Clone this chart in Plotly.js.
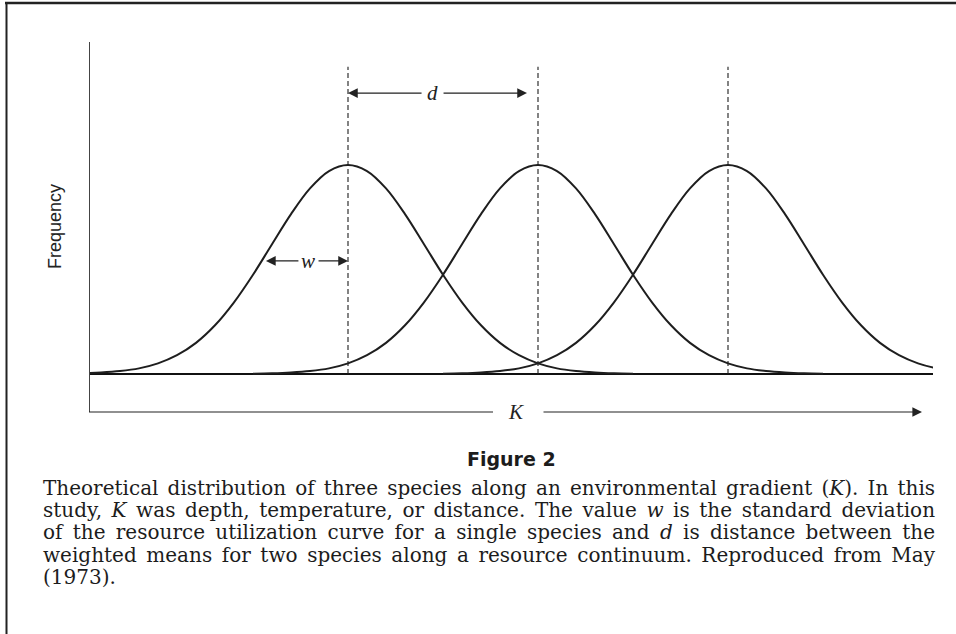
<!DOCTYPE html>
<html>
<head>
<meta charset="utf-8">
<script src="https://cdn.plot.ly/plotly-3.0.1.min.js"></script>
<style>
html,body{margin:0;padding:0;background:#ffffff;}
#chart{width:956px;height:634px;}
</style>
</head>
<body>
<div id="chart"></div>
<script>
// ---------------- data ----------------
// weighted means of the three species along K (in units of d)
const speciesMeans = [0, 1, 2];
// resource utilisation curve: offsets from the mean (units of d) and relative frequency
const curveOffsets = [-1.5,-1.4,-1.3,-1.2,-1.1,-1.0,-0.9,-0.8,-0.7,-0.6,-0.5,-0.4,-0.3,-0.2,-0.1,0,
                       0.1,0.2,0.3,0.4,0.5,0.6,0.7,0.8,0.9,1.0,1.1,1.2,1.3,1.4,1.5];
const curveFrequency = [0.001,0.003,0.007,0.014,0.027,0.051,0.090,0.149,0.233,0.343,0.475,0.621,0.765,0.888,0.971,1.000,
                        0.971,0.888,0.765,0.621,0.475,0.343,0.233,0.149,0.090,0.051,0.027,0.014,0.007,0.003,0.001];
const meanLineHeight = [0, 1.47];     // dashed mean lines run from baseline to here
const dArrowY = 1.344, dArrowRight = 0.942;   // d marker (from mean 1 toward mean 2)
const wArrowY = 0.541, wArrowLeft = -0.432;   // w marker (one s.d. left of mean 1)

const yAxisTitle = 'Frequency';
const gradientLabel = 'K';
const widthLabel = 'w';
const distLabel = 'd';
const figureTitle = 'Figure 2';
const captionLines = [
  'Theoretical distribution of three species along an environmental gradient (<i>K</i>). In this',
  'study, <i>K</i> was depth, temperature, or distance. The value <i>w</i> is the standard deviation',
  'of the resource utilization curve for a single species and <i>d</i> is distance between the',
  'weighted means for two species along a resource continuum. Reproduced from May',
  '(1973).'
];

// ---------------- layout geometry ----------------
const W = 956, H = 634;
const M = {l: 90, r: 23, t: 42, b: 222};
const PW = W - M.l - M.r, PH = H - M.t - M.b;
const px2x = px => (px - M.l) / PW;
const px2y = py => (H - M.b - py) / PH;

const INK = '#1e1e1e';
const CAPFONT = 'DejaVu Serif';
const SERIF = 'DejaVu Serif, serif';
const ITAL = 'Liberation Serif, DejaVu Serif, serif';

// ---------------- traces ----------------
const traces = [];
speciesMeans.forEach(m => {
  traces.push({
    x: [m, m], y: meanLineHeight, mode: 'lines', hoverinfo: 'skip', showlegend: false,
    line: {color: INK, width: 1.1, dash: '5px,3px'}
  });
});
speciesMeans.forEach(m => {
  traces.push({
    x: curveOffsets.map(o => m + o), y: curveFrequency, mode: 'lines', hoverinfo: 'skip', showlegend: false,
    line: {color: INK, width: 2, shape: 'spline', smoothing: 1}
  });
});

// ---------------- caption justification ----------------
const ctx = document.createElement('canvas').getContext('2d');
function measure(html, size) {
  let w = 0;
  html.split(/(<i>.*?<\/i>)/).forEach(p => {
    if (!p) return;
    const it = p.startsWith('<i>');
    ctx.font = (it ? 'italic ' : '') + size + 'px "' + CAPFONT + '", serif';
    w += ctx.measureText(p.replace(/<\/?i>/g, '')).width;
  });
  return w;
}
const capLeft = 43, capRight = 935, capW = capRight - capLeft;
const ratios = captionLines.slice(0, 4).map(l => capW / measure(l, 18));
const ratioAvg = ratios.reduce((a, b) => a + b, 0) / ratios.length;
const capSize = Math.max(14, Math.min(20, 18 * ratioAvg));
const capY = [488, 510, 532, 555, 577];

const annotations = [];
captionLines.forEach((line, i) => {
  let txt = line;
  if (i < captionLines.length - 1) {
    const nat = measure(line, capSize);
    const spaces = (line.replace(/<\/?i>/g, '').match(/ /g) || []).length;
    const ws = (capW - nat) / spaces;
    txt = '<span style="word-spacing:' + ws.toFixed(2) + 'px">' + line + '</span>';
  }
  annotations.push({
    xref: 'paper', yref: 'paper', x: px2x(capLeft - 2), y: px2y(capY[i]),
    xanchor: 'left', yanchor: 'middle', align: 'left', showarrow: false,
    text: txt, font: {family: SERIF, size: capSize, color: '#1c1c1c'}
  });
});

annotations.push({
  xref: 'paper', yref: 'paper', x: px2x(511), y: px2y(459), xanchor: 'center', yanchor: 'middle',
  showarrow: false, text: '<b>' + figureTitle + '</b>',
  font: {family: '"Liberation Sans Narrow", "DejaVu Sans", sans-serif', size: 19, color: '#1c1c1c'}
});
annotations.push({
  xref: 'paper', yref: 'paper', x: px2x(55), y: 0.5, xanchor: 'center', yanchor: 'middle',
  showarrow: false, textangle: -90, text: yAxisTitle,
  font: {family: 'Liberation Sans, Arial, sans-serif', size: 18, color: '#222'}
});
// K gradient label and arrow
annotations.push({
  xref: 'paper', yref: 'paper', x: px2x(516), y: 0, xanchor: 'center', yanchor: 'middle',
  showarrow: false, text: '<i>' + gradientLabel + '</i>', font: {family: ITAL, size: 21, color: '#222'}
});
annotations.push({
  xref: 'paper', yref: 'paper', x: px2x(922), y: 0, text: '', showarrow: true,
  ax: -(922 - 542), ay: 0, arrowhead: 2, arrowsize: 1.6, arrowwidth: 1.2, arrowcolor: '#222'
});
// d marker
annotations.push({
  xref: 'x', yref: 'y', axref: 'x', ayref: 'y', x: speciesMeans[0], y: dArrowY, ax: 0.395, ay: dArrowY,
  text: '', showarrow: true, arrowhead: 2, arrowsize: 1.5, arrowwidth: 1.3, arrowcolor: '#222'
});
annotations.push({
  xref: 'x', yref: 'y', axref: 'x', ayref: 'y', x: dArrowRight, y: dArrowY, ax: 0.495, ay: dArrowY,
  text: '', showarrow: true, arrowhead: 2, arrowsize: 1.5, arrowwidth: 1.3, arrowcolor: '#222'
});
annotations.push({
  xref: 'x', yref: 'y', x: 0.445, y: dArrowY, xanchor: 'center', yanchor: 'middle', showarrow: false,
  text: '<i>' + distLabel + '</i>', font: {family: ITAL, size: 21, color: '#222'}
});
// w marker
annotations.push({
  xref: 'x', yref: 'y', axref: 'x', ayref: 'y', x: wArrowLeft, y: wArrowY, ax: -0.253, ay: wArrowY,
  text: '', showarrow: true, arrowhead: 2, arrowsize: 1.5, arrowwidth: 1.3, arrowcolor: '#222'
});
annotations.push({
  xref: 'x', yref: 'y', axref: 'x', ayref: 'y', x: speciesMeans[0], y: wArrowY, ax: -0.163, ay: wArrowY,
  text: '', showarrow: true, arrowhead: 2, arrowsize: 1.5, arrowwidth: 1.3, arrowcolor: '#222'
});
annotations.push({
  xref: 'x', yref: 'y', x: -0.208, y: wArrowY, xanchor: 'center', yanchor: 'middle', showarrow: false,
  text: '<i>' + widthLabel + '</i>', font: {family: ITAL, size: 21, color: '#222'}
});

// ---------------- shapes (frame and K axis line) ----------------
const shapes = [
  {type: 'line', xref: 'paper', yref: 'paper', x0: px2x(89), x1: px2x(493), y0: 0, y1: 0,
   line: {color: '#222', width: 1.2}},
  {type: 'line', xref: 'paper', yref: 'paper', x0: px2x(5), x1: px2x(962), y0: px2y(3), y1: px2y(3),
   line: {color: '#222', width: 2.5}},
  {type: 'line', xref: 'paper', yref: 'paper', x0: px2x(6.5), x1: px2x(6.5), y0: px2y(2), y1: px2y(640),
   line: {color: '#222', width: 2}}
];

const xLeft = speciesMeans[0] - (348 - M.l) / 190;
const xRight = speciesMeans[0] + (W - M.r - 348) / 190;
const layout = {
  width: W, height: H,
  margin: M,
  paper_bgcolor: '#ffffff', plot_bgcolor: '#ffffff',
  showlegend: false,
  xaxis: {range: [xLeft, xRight], showgrid: false, zeroline: false, showline: false,
          showticklabels: false, ticks: '', fixedrange: true},
  yaxis: {range: [-(H - M.b - 374) / 209, (374 - M.t) / 209], showgrid: false,
          zeroline: true, zerolinecolor: '#111', zerolinewidth: 2,
          showline: true, linecolor: '#444', linewidth: 1.5,
          showticklabels: false, ticks: '', fixedrange: true},
  shapes: shapes,
  annotations: annotations
};

Plotly.newPlot('chart', traces, layout, {staticPlot: true, displayModeBar: false});
</script>
</body>
</html>
